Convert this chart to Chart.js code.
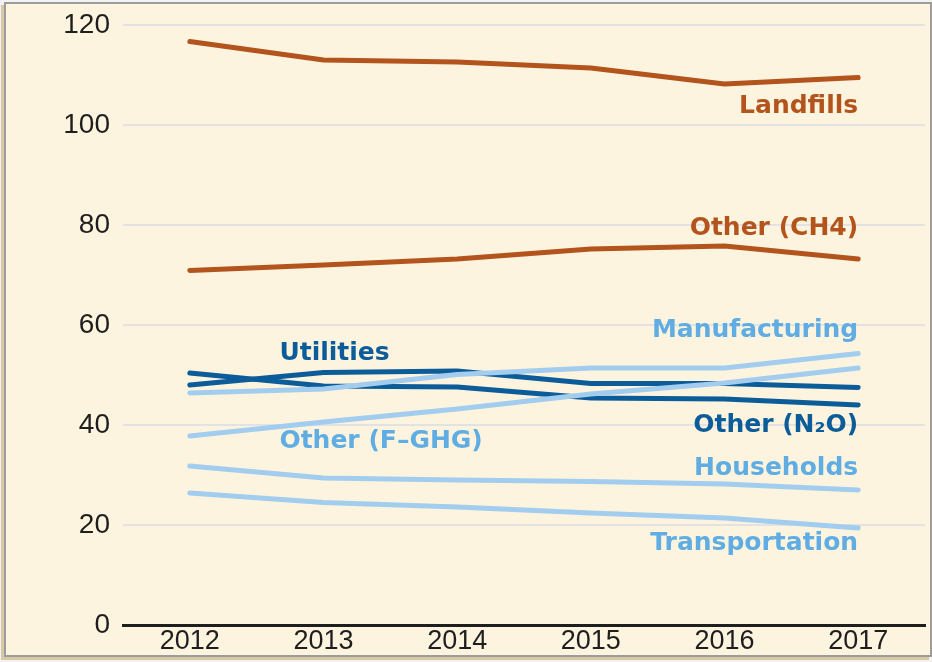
<!DOCTYPE html>
<html>
<head>
<meta charset="utf-8">
<script src="https://cdn.jsdelivr.net/npm/chart.js@4"></script>
<style>
  body { margin: 0; background: #f2f2f2; }
  #frame {
    position: absolute; left: 4px; top: 2px; width: 924px; height: 651px;
    background: #fdf4e0; border: 2px solid #9c9c9c;
    box-shadow: -3px 3px 0 #d8c8a6;
  }
  #chartcanvas { position: absolute; left: 0; top: 0; }
</style>
</head>
<body>
<div id="frame"></div>
<canvas id="chartcanvas" width="932" height="662"></canvas>
<script>
var years = ['2012', '2013', '2014', '2015', '2016', '2017'];
var yTicks = [0, 20, 40, 60, 80, 100, 120];

var landfills      = [116.7, 113.0, 112.6, 111.4, 108.2, 109.5];
var otherCH4       = [70.9, 72.0, 73.2, 75.2, 75.8, 73.2];
var utilities      = [48.0, 50.5, 50.8, 48.3, 48.3, 47.5];
var otherN2O       = [50.4, 47.8, 47.6, 45.4, 45.2, 44.0];
var manufacturing  = [46.4, 47.2, 50.1, 51.4, 51.4, 54.3];
var otherFGHG      = [37.8, 40.6, 43.2, 46.2, 48.4, 51.4];
var households     = [31.8, 29.4, 29.0, 28.7, 28.2, 27.0];
var transportation = [26.4, 24.5, 23.6, 22.4, 21.4, 19.4];

var brown = '#b3541c';
var darkBlue = '#0b5c99';
var lightLine = '#a2cdef';
var lightText = '#5fade2';

// inline series labels, anchored in data coordinates (category index, value)
var seriesLabels = [
    { text: 'Landfills', color: brown, x: 5, y: 103.8, align: 'right' },
    { text: 'Other (CH4)', color: brown, x: 5, y: 79.4, align: 'right' },
    { text: 'Manufacturing', color: lightText, x: 5, y: 59.0, align: 'right' },
    { text: 'Utilities', color: darkBlue, x: 0.67, y: 54.4, align: 'left' },
    { text: 'Other (N\u2082O)', color: darkBlue, x: 5, y: 40.0, align: 'right' },
    { text: 'Other (F\u2013GHG)', color: lightText, x: 0.67, y: 36.8, align: 'left' },
    { text: 'Households', color: lightText, x: 5, y: 31.4, align: 'right' },
    { text: 'Transportation', color: lightText, x: 5, y: 16.4, align: 'right' },
];

function line(label, data, color) {
    return {
        label: label,
        data: data,
        borderColor: color,
        borderWidth: 5,
        borderCapStyle: 'round',
        borderJoinStyle: 'round',
        pointRadius: 0,
        tension: 0,
        fill: false,
    };
}

var labelPlugin = {
    id: 'seriesLabels',
    afterDatasetsDraw: function (chart) {
        var c = chart.ctx;
        var xs = chart.scales.x, ys = chart.scales.y;
        c.save();
        c.font = 'bold 25px "DejaVu Sans"';
        c.textBaseline = 'middle';
        seriesLabels.forEach(function (l) {
            c.fillStyle = l.color;
            c.textAlign = l.align;
            c.fillText(l.text, xs.getPixelForValue(l.x), ys.getPixelForValue(l.y));
        });
        c.restore();
    }
};

var ctx = document.getElementById('chartcanvas');
var myChart = new Chart(ctx, {
    type: 'line',
    data: {
        labels: years,
        datasets: [
            line('Manufacturing', manufacturing, lightLine),
            line('Other (F-GHG)', otherFGHG, lightLine),
            line('Households', households, lightLine),
            line('Transportation', transportation, lightLine),
            line('Utilities', utilities, darkBlue),
            line('Other (N2O)', otherN2O, darkBlue),
            line('Landfills', landfills, brown),
            line('Other (CH4)', otherCH4, brown),
        ],
    },
    options: {
        responsive: false,
        animation: false,
        layout: { padding: { left: 0, top: 25, right: 7, bottom: 0 } },
        plugins: {
            legend: { display: false },
            tooltip: { enabled: false },
        },
        scales: {
            x: {
                offset: true,
                grid: { display: false, drawTicks: false },
                border: { display: true, color: '#1e1e1e', width: 3 },
                ticks: {
                    color: '#1e1e1e',
                    padding: 0,
                    font: { family: '"Liberation Sans"', size: 27 },
                    maxRotation: 0,
                },
                afterFit: function (s) { s.height = 37; s.paddingLeft = 0; s.paddingRight = 0; },
            },
            y: {
                min: 0,
                max: 120,
                afterBuildTicks: function (s) {
                    s.ticks = yTicks.map(function (v) { return { value: v }; });
                },
                grid: { color: '#e2e2e2', lineWidth: 2, drawTicks: false },
                border: { display: false },
                ticks: {
                    color: '#1e1e1e',
                    padding: 13,
                    font: { family: '"Liberation Sans"', size: 28 },
                },
                afterFit: function (s) { s.width = 123; s.paddingTop = 0; s.paddingBottom = 0; },
            },
        },
    },
    plugins: [labelPlugin],
});
</script>
</body>
</html>
